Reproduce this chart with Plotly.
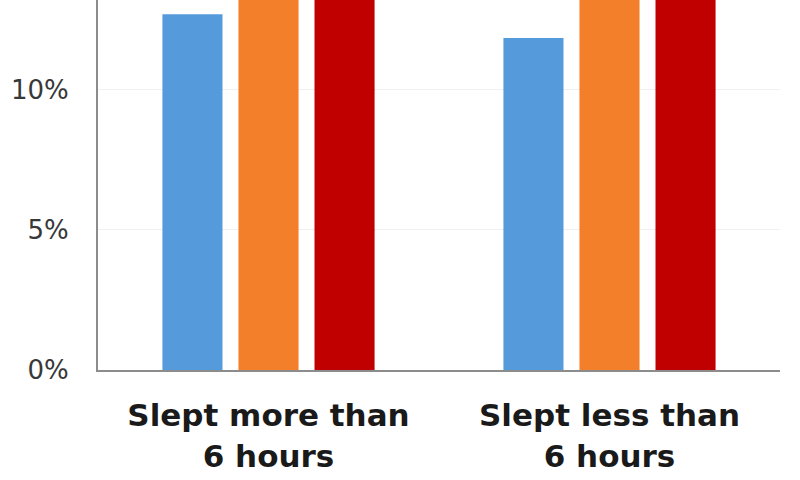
import plotly.graph_objects as go

categories = ["Slept more than<br>6 hours", "Slept less than<br>6 hours"]
series_names = ["Series A", "Series B", "Series C"]
series_a = [12.7, 11.85]
series_b = [16.0, 16.5]
series_c = [18.0, 18.5]
colors = ["#559BDB", "#F47F2A", "#C00000"]
y_ticks = [0, 5, 10]
y_tick_labels = ["0%", "5%", "10%"]

fig = go.Figure()
for name, vals, col in zip(series_names, [series_a, series_b, series_c], colors):
    fig.add_trace(go.Bar(x=categories, y=vals, name=name, marker=dict(color=col, line=dict(width=0))))

fig.update_layout(
    width=800, height=480,
    margin=dict(l=98, r=20, t=0, b=110),
    paper_bgcolor="white", plot_bgcolor="white",
    barmode="group", bargap=0.331, bargroupgap=0.21,
    showlegend=False,
    font=dict(family="DejaVu Sans, Arial, sans-serif", color="#262626"),
)
fig.update_yaxes(
    range=[0, 13.21], tickvals=y_ticks, ticktext=y_tick_labels,
    tickfont=dict(size=26, color="#383838"),
    showline=True, linecolor="#8c8c8c", linewidth=2,
    showgrid=True, gridcolor="#f0f0f0", gridwidth=1,
    zeroline=False, ticks="", ticklabelstandoff=22,
)
fig.update_xaxes(
    tickfont=dict(size=31, color="#1a1a1a", weight="bold"),
    showline=True, linecolor="#8c8c8c", linewidth=2,
    ticks="", ticklabelstandoff=17,
)

# drop the browser's default body margin so the figure sits at the page corner
fig.write_html(
    "out.html",
    config={"displayModeBar": False},
    post_script="document.body.style.margin='0';",
)
